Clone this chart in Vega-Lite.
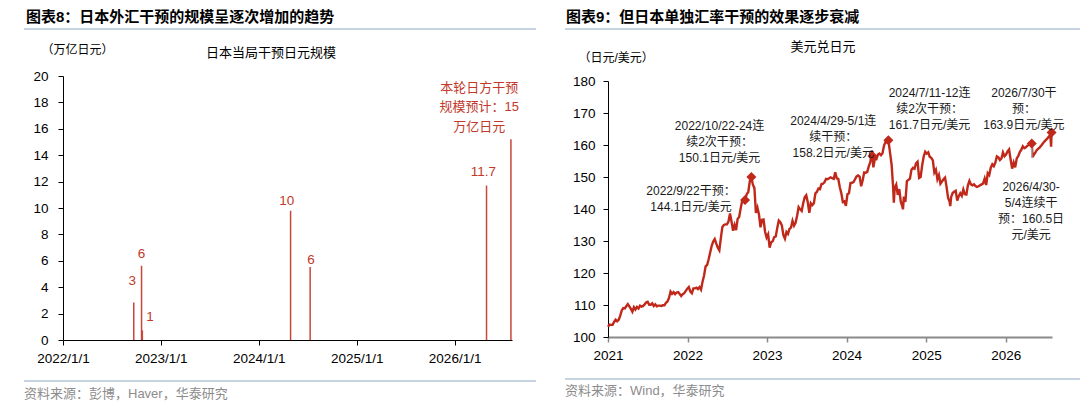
{
  "$schema": "https://vega.github.io/schema/vega-lite/v6.json",
  "background": "white",
  "padding": {"left": 23, "top": 10, "right": 0, "bottom": 0},
  "spacing": 27,
  "config": {
    "view": {"stroke": null},
    "font": "Liberation Sans, Noto Sans CJK SC",
    "title": {"font": "Liberation Sans, Noto Sans CJK SC", "color": "#000000"},
    "axis": {
      "grid": false,
      "labelFont": "Liberation Sans, Noto Sans CJK SC",
      "titleFont": "Liberation Sans, Noto Sans CJK SC",
      "labelColor": "#000000",
      "titleColor": "#000000",
      "domainColor": "#000000",
      "tickColor": "#000000",
      "labelFontSize": 13.5,
      "labelOverlap": false,
      "labelBound": false,
      "tickSize": 5
    }
  },
  "hconcat": [
    {
      "spacing": 13,
      "vconcat": [
        {
          "width": 512,
          "height": 1,
          "title": {"text": "图表8：日本外汇干预的规模呈逐次增加的趋势", "anchor": "start", "frame": "group", "fontSize": 15, "fontWeight": "bold", "offset": 3, "dx": 2},
          "data": {"values": [{"line": 1}]},
          "mark": {"type": "rule", "color": "#b4c6d8", "strokeWidth": 1.5},
          "encoding": {"y": {"field": "line", "type": "quantitative", "scale": {"domain": [0, 1]}, "axis": null}}
        },
        {
          "width": 512,
          "height": 264,
          "title": {"text": "日本当局干预日元规模", "anchor": "middle", "frame": "group", "fontSize": 13, "fontWeight": "normal", "offset": -17, "dx": -9},
          "layer": [
            {
              "data": {"values": [
                {"d": "2022-09-22", "v": 2.84},
                {"d": "2022-10-21", "v": 5.62},
                {"d": "2022-10-24", "v": 0.73},
                {"d": "2024-04-29", "v": 9.79},
                {"d": "2024-07-11", "v": 5.53},
                {"d": "2026-04-30", "v": 11.7},
                {"d": "2026-07-30", "v": 15.2}
              ]},
              "mark": {"type": "rule", "color": "#c9463b", "strokeWidth": 1.5},
              "encoding": {
                "x": {"field": "d", "type": "temporal", "scale": {"domain": ["2022-01-01", "2026-08-03"], "range": [39, 488]},
                  "axis": {"values": [{"year": 2022, "month": 1, "date": 1}, {"year": 2023, "month": 1, "date": 1}, {"year": 2024, "month": 1, "date": 1}, {"year": 2025, "month": 1, "date": 1}, {"year": 2026, "month": 1, "date": 1}],
                    "tickCount": 5, "format": "%Y/%-m/%-d", "title": null, "labelFlush": false, "labelOverlap": false, "labelPadding": 6, "labelAngle": 0}},
                "y": {"field": "v", "type": "quantitative", "scale": {"domain": [0, 20]},
                  "axis": {"values": [0, 2, 4, 6, 8, 10, 12, 14, 16, 18, 20], "tickCount": 11, "labelOverlap": false, "labelFlush": false, "offset": -39, "title": "（万亿日元）", "titleAngle": 0, "titleAlign": "left", "titleBaseline": "middle", "titleX": -22, "titleY": -27, "titleFontWeight": "normal", "titleFontSize": 12, "labelPadding": 10}},
                "y2": {"datum": 0}
              }
            },
            {
              "data": {"values": [
                {"d": "2022-09-16", "v": 4.5, "t": "3"},
                {"d": "2022-10-21", "v": 6.5, "t": "6"},
                {"d": "2022-11-22", "v": 1.74, "t": "1"},
                {"d": "2024-04-15", "v": 10.5, "t": "10"},
                {"d": "2024-07-14", "v": 6.06, "t": "6"},
                {"d": "2026-04-18", "v": 12.7, "t": "11.7"}
              ]},
              "mark": {"type": "text", "color": "#c0392b", "fontSize": 13.5, "align": "center", "baseline": "middle"},
              "encoding": {
                "x": {"field": "d", "type": "temporal", "scale": {"domain": ["2022-01-01", "2026-08-03"], "range": [39, 488]}},
                "y": {"field": "v", "type": "quantitative", "scale": {"domain": [0, 20]}},
                "text": {"field": "t"}
              }
            },
            {
              "data": {"values": [{"d": "2026-04-03", "v": 19.1, "t": "本轮日方干预\n规模预计：15\n万亿日元"}]},
              "mark": {"type": "text", "color": "#c0392b", "fontSize": 13, "lineBreak": "\n", "lineHeight": 19.5, "align": "center", "baseline": "middle"},
              "encoding": {
                "x": {"field": "d", "type": "temporal", "scale": {"domain": ["2022-01-01", "2026-08-03"], "range": [39, 488]}},
                "y": {"field": "v", "type": "quantitative", "scale": {"domain": [0, 20]}},
                "text": {"field": "t"}
              }
            }
          ]
        },
        {
          "width": 512,
          "height": 30,
          "layer": [
            {
              "data": {"values": [{}]},
              "mark": {"type": "rule", "color": "#b4c6d8", "strokeWidth": 1.5},
              "encoding": {"y": {"datum": 27, "type": "quantitative", "scale": {"domain": [0, 30]}, "axis": null}}
            },
            {
              "data": {"values": [{"t": "资料来源：彭博，Haver，华泰研究"}]},
              "mark": {"type": "text", "align": "left", "baseline": "middle", "fontSize": 13, "color": "#8c8c8c"},
              "encoding": {
                "x": {"datum": 0, "type": "quantitative", "scale": {"domain": [0, 1]}, "axis": null},
                "y": {"datum": 14, "type": "quantitative", "scale": {"domain": [0, 30]}, "axis": null},
                "text": {"field": "t"}
              }
            }
          ]
        }
      ]
    },
    {
      "spacing": 10,
      "vconcat": [
        {
          "width": 518,
          "height": 1,
          "title": {"text": "图表9：但日本单独汇率干预的效果逐步衰减", "anchor": "start", "frame": "group", "fontSize": 15, "fontWeight": "bold", "offset": 3, "dx": 1},
          "data": {"values": [{"line": 1}]},
          "mark": {"type": "rule", "color": "#b4c6d8", "strokeWidth": 1.5},
          "encoding": {"y": {"field": "line", "type": "quantitative", "scale": {"domain": [0, 1]}, "axis": null}}
        },
        {
          "width": 518,
          "height": 256,
          "title": {"text": "美元兑日元", "anchor": "middle", "frame": "group", "fontSize": 13, "fontWeight": "normal", "offset": -2.5, "dx": -1},
          "layer": [
            {
              "data": {"values": [
                {"d": "2021-01-01", "v": 103.2}, {"d": "2021-01-08", "v": 103.9}, {"d": "2021-01-15", "v": 103.8}, {"d": "2021-01-22", "v": 103.8}, {"d": "2021-01-29", "v": 104.7},
                {"d": "2021-02-05", "v": 105.4}, {"d": "2021-02-12", "v": 104.9}, {"d": "2021-02-19", "v": 105.4}, {"d": "2021-02-26", "v": 106.6},
                {"d": "2021-03-05", "v": 108.3}, {"d": "2021-03-12", "v": 109.0}, {"d": "2021-03-19", "v": 108.9}, {"d": "2021-03-26", "v": 109.6},
                {"d": "2021-04-02", "v": 110.3}, {"d": "2021-04-09", "v": 109.6}, {"d": "2021-04-16", "v": 108.8}, {"d": "2021-04-23", "v": 107.9}, {"d": "2021-04-30", "v": 109.3},
                {"d": "2021-05-07", "v": 108.6}, {"d": "2021-05-14", "v": 109.4}, {"d": "2021-05-21", "v": 108.9}, {"d": "2021-05-28", "v": 109.8},
                {"d": "2021-06-04", "v": 109.5}, {"d": "2021-06-11", "v": 109.7}, {"d": "2021-06-18", "v": 110.2}, {"d": "2021-06-25", "v": 110.8},
                {"d": "2021-07-02", "v": 111.0}, {"d": "2021-07-09", "v": 110.1}, {"d": "2021-07-16", "v": 110.1}, {"d": "2021-07-23", "v": 110.5}, {"d": "2021-07-30", "v": 109.7},
                {"d": "2021-08-06", "v": 110.2}, {"d": "2021-08-13", "v": 109.6}, {"d": "2021-08-20", "v": 109.8}, {"d": "2021-08-27", "v": 109.8},
                {"d": "2021-09-03", "v": 109.7}, {"d": "2021-09-10", "v": 109.9}, {"d": "2021-09-17", "v": 109.9}, {"d": "2021-09-24", "v": 110.7},
                {"d": "2021-10-01", "v": 111.1}, {"d": "2021-10-08", "v": 112.2}, {"d": "2021-10-15", "v": 114.2}, {"d": "2021-10-22", "v": 113.5}, {"d": "2021-10-29", "v": 114.0},
                {"d": "2021-11-05", "v": 113.4}, {"d": "2021-11-12", "v": 113.9}, {"d": "2021-11-19", "v": 114.0}, {"d": "2021-11-26", "v": 113.4},
                {"d": "2021-12-03", "v": 112.8}, {"d": "2021-12-10", "v": 113.4}, {"d": "2021-12-17", "v": 113.7}, {"d": "2021-12-24", "v": 114.4}, {"d": "2021-12-31", "v": 115.1},
                {"d": "2022-01-07", "v": 115.6}, {"d": "2022-01-14", "v": 114.2}, {"d": "2022-01-21", "v": 113.7}, {"d": "2022-01-28", "v": 115.2},
                {"d": "2022-02-04", "v": 115.2}, {"d": "2022-02-11", "v": 115.4}, {"d": "2022-02-18", "v": 115.0}, {"d": "2022-02-25", "v": 115.6},
                {"d": "2022-03-04", "v": 114.8}, {"d": "2022-03-11", "v": 117.3}, {"d": "2022-03-18", "v": 119.2}, {"d": "2022-03-25", "v": 122.1},
                {"d": "2022-04-01", "v": 122.5}, {"d": "2022-04-08", "v": 124.3}, {"d": "2022-04-15", "v": 126.4}, {"d": "2022-04-22", "v": 128.5}, {"d": "2022-04-29", "v": 129.8},
                {"d": "2022-05-06", "v": 130.6}, {"d": "2022-05-13", "v": 129.2}, {"d": "2022-05-20", "v": 127.9}, {"d": "2022-05-27", "v": 127.1},
                {"d": "2022-06-03", "v": 130.9}, {"d": "2022-06-10", "v": 134.4}, {"d": "2022-06-17", "v": 135.0}, {"d": "2022-06-24", "v": 135.2},
                {"d": "2022-07-01", "v": 135.2}, {"d": "2022-07-08", "v": 136.1}, {"d": "2022-07-15", "v": 138.6}, {"d": "2022-07-22", "v": 136.1}, {"d": "2022-07-29", "v": 133.2},
                {"d": "2022-08-05", "v": 135.0}, {"d": "2022-08-12", "v": 133.4}, {"d": "2022-08-19", "v": 136.9}, {"d": "2022-08-26", "v": 137.5},
                {"d": "2022-09-02", "v": 140.2}, {"d": "2022-09-09", "v": 142.6}, {"d": "2022-09-16", "v": 142.9}, {"d": "2022-09-22", "v": 142.8}, {"d": "2022-09-30", "v": 144.7},
                {"d": "2022-10-07", "v": 145.3}, {"d": "2022-10-14", "v": 148.7}, {"d": "2022-10-21", "v": 150.0}, {"d": "2022-10-28", "v": 147.6},
                {"d": "2022-11-04", "v": 146.6}, {"d": "2022-11-11", "v": 138.8}, {"d": "2022-11-18", "v": 140.4}, {"d": "2022-11-25", "v": 138.3},
                {"d": "2022-12-02", "v": 134.3}, {"d": "2022-12-09", "v": 136.6}, {"d": "2022-12-16", "v": 136.7}, {"d": "2022-12-23", "v": 132.9}, {"d": "2022-12-30", "v": 131.1},
                {"d": "2023-01-06", "v": 132.1}, {"d": "2023-01-13", "v": 127.9}, {"d": "2023-01-20", "v": 129.6}, {"d": "2023-01-27", "v": 129.9},
                {"d": "2023-02-03", "v": 131.2}, {"d": "2023-02-10", "v": 131.4}, {"d": "2023-02-17", "v": 134.1}, {"d": "2023-02-24", "v": 136.4},
                {"d": "2023-03-03", "v": 135.9}, {"d": "2023-03-10", "v": 134.9}, {"d": "2023-03-17", "v": 131.8}, {"d": "2023-03-24", "v": 130.7}, {"d": "2023-03-31", "v": 132.8},
                {"d": "2023-04-07", "v": 132.2}, {"d": "2023-04-14", "v": 133.8}, {"d": "2023-04-21", "v": 134.2}, {"d": "2023-04-28", "v": 136.3},
                {"d": "2023-05-05", "v": 134.8}, {"d": "2023-05-12", "v": 135.7}, {"d": "2023-05-19", "v": 137.9}, {"d": "2023-05-26", "v": 140.6},
                {"d": "2023-06-02", "v": 139.9}, {"d": "2023-06-09", "v": 139.4}, {"d": "2023-06-16", "v": 141.8}, {"d": "2023-06-23", "v": 143.7}, {"d": "2023-06-30", "v": 144.3},
                {"d": "2023-07-07", "v": 142.1}, {"d": "2023-07-14", "v": 138.8}, {"d": "2023-07-21", "v": 141.8}, {"d": "2023-07-28", "v": 141.2},
                {"d": "2023-08-04", "v": 141.8}, {"d": "2023-08-11", "v": 144.9}, {"d": "2023-08-18", "v": 145.4}, {"d": "2023-08-25", "v": 146.4},
                {"d": "2023-09-01", "v": 146.2}, {"d": "2023-09-08", "v": 147.8}, {"d": "2023-09-15", "v": 147.9}, {"d": "2023-09-22", "v": 148.4}, {"d": "2023-09-29", "v": 149.4},
                {"d": "2023-10-06", "v": 149.3}, {"d": "2023-10-13", "v": 149.6}, {"d": "2023-10-20", "v": 149.9}, {"d": "2023-10-27", "v": 149.6},
                {"d": "2023-11-03", "v": 149.4}, {"d": "2023-11-10", "v": 151.5}, {"d": "2023-11-17", "v": 149.6}, {"d": "2023-11-24", "v": 149.4},
                {"d": "2023-12-01", "v": 146.8}, {"d": "2023-12-08", "v": 144.9}, {"d": "2023-12-15", "v": 142.2}, {"d": "2023-12-22", "v": 142.4}, {"d": "2023-12-29", "v": 141.0},
                {"d": "2024-01-05", "v": 144.6}, {"d": "2024-01-12", "v": 144.9}, {"d": "2024-01-19", "v": 148.1}, {"d": "2024-01-26", "v": 148.2},
                {"d": "2024-02-02", "v": 148.4}, {"d": "2024-02-09", "v": 149.3}, {"d": "2024-02-16", "v": 150.2}, {"d": "2024-02-23", "v": 150.5},
                {"d": "2024-03-01", "v": 150.1}, {"d": "2024-03-08", "v": 147.1}, {"d": "2024-03-15", "v": 149.0}, {"d": "2024-03-22", "v": 151.4}, {"d": "2024-03-29", "v": 151.3},
                {"d": "2024-04-05", "v": 151.6}, {"d": "2024-04-12", "v": 153.3}, {"d": "2024-04-19", "v": 154.6}, {"d": "2024-04-26", "v": 158.3}, {"d": "2024-04-29", "v": 156.6},
                {"d": "2024-05-03", "v": 153.0}, {"d": "2024-05-10", "v": 155.8}, {"d": "2024-05-17", "v": 155.6}, {"d": "2024-05-24", "v": 157.0}, {"d": "2024-05-31", "v": 157.3},
                {"d": "2024-06-07", "v": 156.8}, {"d": "2024-06-14", "v": 157.4}, {"d": "2024-06-21", "v": 159.8}, {"d": "2024-06-28", "v": 160.9},
                {"d": "2024-07-05", "v": 160.8}, {"d": "2024-07-11", "v": 161.5}, {"d": "2024-07-19", "v": 157.4}, {"d": "2024-07-26", "v": 153.7},
                {"d": "2024-08-02", "v": 146.5}, {"d": "2024-08-05", "v": 142.0}, {"d": "2024-08-09", "v": 146.6}, {"d": "2024-08-16", "v": 147.6}, {"d": "2024-08-23", "v": 144.4}, {"d": "2024-08-30", "v": 146.2},
                {"d": "2024-09-06", "v": 142.3}, {"d": "2024-09-13", "v": 140.8}, {"d": "2024-09-16", "v": 139.9}, {"d": "2024-09-20", "v": 143.9}, {"d": "2024-09-27", "v": 142.2},
                {"d": "2024-10-04", "v": 148.7}, {"d": "2024-10-11", "v": 149.1}, {"d": "2024-10-18", "v": 149.5}, {"d": "2024-10-25", "v": 152.3},
                {"d": "2024-11-01", "v": 152.9}, {"d": "2024-11-08", "v": 152.6}, {"d": "2024-11-15", "v": 154.3}, {"d": "2024-11-22", "v": 154.8}, {"d": "2024-11-29", "v": 149.7},
                {"d": "2024-12-06", "v": 150.0}, {"d": "2024-12-13", "v": 153.6}, {"d": "2024-12-20", "v": 156.4}, {"d": "2024-12-27", "v": 157.9},
                {"d": "2025-01-03", "v": 157.3}, {"d": "2025-01-10", "v": 157.7}, {"d": "2025-01-17", "v": 156.3}, {"d": "2025-01-24", "v": 156.0}, {"d": "2025-01-31", "v": 155.2},
                {"d": "2025-02-07", "v": 151.4}, {"d": "2025-02-14", "v": 152.3}, {"d": "2025-02-21", "v": 149.3}, {"d": "2025-02-28", "v": 150.6},
                {"d": "2025-03-07", "v": 147.9}, {"d": "2025-03-14", "v": 148.6}, {"d": "2025-03-21", "v": 149.3}, {"d": "2025-03-28", "v": 149.8},
                {"d": "2025-04-04", "v": 146.9}, {"d": "2025-04-11", "v": 143.5}, {"d": "2025-04-18", "v": 142.2}, {"d": "2025-04-21", "v": 140.9}, {"d": "2025-04-25", "v": 143.7},
                {"d": "2025-05-02", "v": 145.0}, {"d": "2025-05-09", "v": 145.4}, {"d": "2025-05-16", "v": 145.7}, {"d": "2025-05-23", "v": 142.6}, {"d": "2025-05-30", "v": 144.0},
                {"d": "2025-06-06", "v": 144.9}, {"d": "2025-06-13", "v": 144.1}, {"d": "2025-06-20", "v": 146.1}, {"d": "2025-06-27", "v": 144.6},
                {"d": "2025-07-04", "v": 144.5}, {"d": "2025-07-11", "v": 147.4}, {"d": "2025-07-18", "v": 148.8}, {"d": "2025-07-25", "v": 147.7},
                {"d": "2025-08-01", "v": 147.4}, {"d": "2025-08-08", "v": 147.7}, {"d": "2025-08-15", "v": 147.2}, {"d": "2025-08-22", "v": 146.9}, {"d": "2025-08-29", "v": 147.1},
                {"d": "2025-09-05", "v": 147.4}, {"d": "2025-09-12", "v": 147.7}, {"d": "2025-09-19", "v": 148.0}, {"d": "2025-09-26", "v": 149.5},
                {"d": "2025-10-03", "v": 147.5}, {"d": "2025-10-10", "v": 151.2}, {"d": "2025-10-17", "v": 150.6}, {"d": "2025-10-24", "v": 152.9}, {"d": "2025-10-31", "v": 154.0},
                {"d": "2025-11-07", "v": 153.4}, {"d": "2025-11-14", "v": 154.5}, {"d": "2025-11-21", "v": 156.4}, {"d": "2025-11-28", "v": 156.1},
                {"d": "2025-12-05", "v": 155.3}, {"d": "2025-12-12", "v": 155.8}, {"d": "2025-12-19", "v": 157.7}, {"d": "2025-12-26", "v": 156.5},
                {"d": "2026-01-02", "v": 157.0}, {"d": "2026-01-09", "v": 158.0}, {"d": "2026-01-16", "v": 158.6}, {"d": "2026-01-23", "v": 155.5}, {"d": "2026-01-30", "v": 152.6},
                {"d": "2026-02-06", "v": 154.5}, {"d": "2026-02-13", "v": 153.0}, {"d": "2026-02-20", "v": 155.8}, {"d": "2026-02-27", "v": 156.5},
                {"d": "2026-03-06", "v": 157.8}, {"d": "2026-03-13", "v": 158.5}, {"d": "2026-03-20", "v": 159.6}, {"d": "2026-03-27", "v": 159.0},
                {"d": "2026-04-03", "v": 159.3}, {"d": "2026-04-10", "v": 159.8}, {"d": "2026-04-17", "v": 160.0}, {"d": "2026-04-24", "v": 160.3}, {"d": "2026-04-30", "v": 160.5},
                {"d": "2026-05-04", "v": 156.2}, {"d": "2026-05-08", "v": 156.8}, {"d": "2026-05-15", "v": 157.5}, {"d": "2026-05-22", "v": 158.3}, {"d": "2026-05-29", "v": 158.8},
                {"d": "2026-06-05", "v": 159.2}, {"d": "2026-06-12", "v": 159.8}, {"d": "2026-06-19", "v": 160.4}, {"d": "2026-06-26", "v": 161.0},
                {"d": "2026-07-03", "v": 161.5}, {"d": "2026-07-10", "v": 162.0}, {"d": "2026-07-17", "v": 162.6}, {"d": "2026-07-24", "v": 163.2}, {"d": "2026-07-28", "v": 159.5}, {"d": "2026-07-30", "v": 163.9}
              ]},
              "mark": {"type": "line", "color": "#c0281a", "strokeWidth": 2.4},
              "encoding": {
                "x": {"field": "d", "type": "temporal", "scale": {"domain": ["2021-01-01", "2026-08-01"], "range": [43, 487]},
                  "axis": {"values": [{"year": 2021, "month": 1, "date": 1}, {"year": 2022, "month": 1, "date": 1}, {"year": 2023, "month": 1, "date": 1}, {"year": 2024, "month": 1, "date": 1}, {"year": 2025, "month": 1, "date": 1}, {"year": 2026, "month": 1, "date": 1}],
                    "tickCount": 6, "format": "%Y", "title": null, "labelFlush": false, "labelOverlap": false, "labelPadding": 6, "labelAngle": 0, "domainColor": "#8a8a8a", "domainWidth": 2, "tickColor": "#8a8a8a", "tickWidth": 1.5}},
                "y": {"field": "v", "type": "quantitative", "scale": {"domain": [100, 180]},
                  "axis": {"values": [100, 110, 120, 130, 140, 150, 160, 170, 180], "tickCount": 9, "labelOverlap": false, "labelFlush": false, "offset": -43, "title": "（日元/美元）", "titleAngle": 0, "titleAlign": "left", "titleBaseline": "middle", "titleX": -30, "titleY": -24, "titleFontWeight": "normal", "titleFontSize": 12, "labelPadding": 8}}
              }
            },
            {
              "data": {"values": [{"d": "2026-04-30", "lo": 156.0, "hi": 160.4}]},
              "mark": {"type": "rule", "color": "#a6a6a6", "strokeWidth": 1.5},
              "encoding": {
                "x": {"field": "d", "type": "temporal", "scale": {"domain": ["2021-01-01", "2026-08-01"], "range": [43, 487]}},
                "y": {"field": "lo", "type": "quantitative", "scale": {"domain": [100, 180]}},
                "y2": {"field": "hi"}
              }
            },
            {
              "data": {"values": [
                {"d": "2022-09-22", "v": 142.8},
                {"d": "2022-10-21", "v": 150.0},
                {"d": "2024-04-29", "v": 156.6},
                {"d": "2024-07-11", "v": 161.5},
                {"d": "2026-04-30", "v": 160.5},
                {"d": "2026-07-30", "v": 163.9}
              ]},
              "mark": {"type": "point", "shape": "diamond", "filled": true, "color": "#c0281a", "size": 100, "opacity": 1},
              "encoding": {
                "x": {"field": "d", "type": "temporal", "scale": {"domain": ["2021-01-01", "2026-08-01"], "range": [43, 487]}},
                "y": {"field": "v", "type": "quantitative", "scale": {"domain": [100, 180]}}
              }
            },
            {
              "data": {"values": [
                {"d": "2022-01-17", "v": 145.6, "t": "2022/9/22干预：\n144.1日元/美元"},
                {"d": "2022-05-28", "v": 165.9, "t": "2022/10/22-24连\n续2次干预：\n150.1日元/美元"},
                {"d": "2023-11-01", "v": 167.5, "t": "2024/4/29-5/1连\n续干预：\n158.2日元/美元"},
                {"d": "2025-01-16", "v": 176.25, "t": "2024/7/11-12连\n续2次干预：\n161.7日元/美元"},
                {"d": "2026-03-25", "v": 176.25, "t": "2026/7/30干\n预：\n163.9日元/美元"},
                {"d": "2026-04-27", "v": 146.9, "t": "2026/4/30-\n5/4连续干\n预：160.5日\n元/美元"}
              ]},
              "mark": {"type": "text", "fontSize": 12, "lineBreak": "\n", "lineHeight": 16, "align": "center", "baseline": "middle", "color": "#1a1a1a"},
              "encoding": {
                "x": {"field": "d", "type": "temporal", "scale": {"domain": ["2021-01-01", "2026-08-01"], "range": [43, 487]}},
                "y": {"field": "v", "type": "quantitative", "scale": {"domain": [100, 180]}},
                "text": {"field": "t"}
              }
            }
          ]
        },
        {
          "width": 518,
          "height": 30,
          "layer": [
            {
              "data": {"values": [{}]},
              "mark": {"type": "rule", "color": "#b4c6d8", "strokeWidth": 1.5},
              "encoding": {"y": {"datum": 23, "type": "quantitative", "scale": {"domain": [0, 30]}, "axis": null}}
            },
            {
              "data": {"values": [{"t": "资料来源：Wind，华泰研究"}]},
              "mark": {"type": "text", "align": "left", "baseline": "middle", "fontSize": 13, "color": "#8c8c8c"},
              "encoding": {
                "x": {"datum": 0, "type": "quantitative", "scale": {"domain": [0, 1]}, "axis": null},
                "y": {"datum": 11, "type": "quantitative", "scale": {"domain": [0, 30]}, "axis": null},
                "text": {"field": "t"}
              }
            }
          ]
        }
      ]
    }
  ]
}
